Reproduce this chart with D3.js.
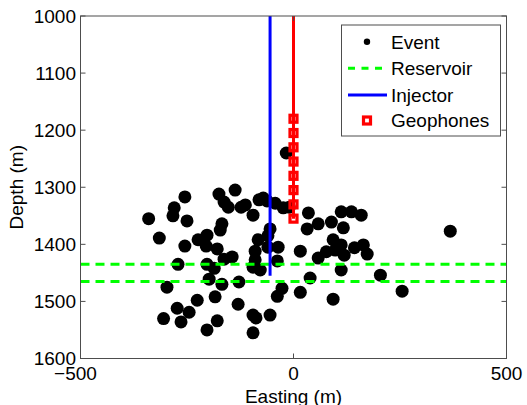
<!DOCTYPE html>
<html>
<head>
<meta charset="utf-8">
<script src="https://cdn.jsdelivr.net/npm/d3@7"></script>
<style>
  body { margin: 0; background: #fff; }
  svg text { font-family: "Liberation Sans", Arial, sans-serif; }
</style>
</head>
<body>
<div id="chart"></div>
<script>
const width = 527;
const height = 405;

// Microseismic events (easting m, depth m)
const eventEasting = [
  -340, -315, -305, -297, -273, -264, -255, -280, -283, -250,
  -255, -271, -245, -226, -224, -203, -205, -179, -203, -186,
  -198, -168, -184, -179, -203, -175, -163, -153, -137, -168,
  -172, -163, -144, -130, -128, -123, -113, -95, -81, -71,
  -62, -43, -24, -10, -55, -60, -83, -90, -60, -36,
  16, -90, -95, -78, -38, 39, -27, -38, 16, -95,
  -88, -55, -95, -17,
  35, 32, 58, 89, 112, 136, 159, 117, 93, 112,
  98, 119, 77, 58, 143, 164, 173, 112, 204, 255,
  93, 368
];
const eventDepth = [
  1355, 1389, 1530, 1475, 1512, 1536, 1317, 1336, 1350, 1359,
  1403, 1435, 1519, 1498, 1392, 1384, 1403, 1408, 1435, 1442,
  1461, 1470, 1492, 1534, 1550, 1312, 1326, 1335, 1305, 1364,
  1375, 1426, 1422, 1505, 1466, 1335, 1331, 1349, 1322, 1319,
  1324, 1328, 1336, 1335, 1373, 1385, 1392, 1412, 1405, 1405,
  1412, 1427, 1440, 1445, 1429, 1459, 1477, 1491, 1484, 1524,
  1529, 1524, 1555, 1240,
  1345, 1373, 1364, 1361, 1343, 1343, 1349, 1371, 1392, 1401,
  1410, 1419, 1413, 1424, 1406, 1401, 1417, 1445, 1454, 1482,
  1496, 1377
];

const reservoirDepths = [1435, 1465];
const injectorEasting = [-55, -55];
const injectorDepth = [1000, 1455];
const geophoneDepths = [1180, 1205, 1230, 1255, 1280, 1305, 1330, 1355];
const geophoneEasting = 0;

const xTicks = [-500, 0, 500];
const yTicks = [1000, 1100, 1200, 1300, 1400, 1500, 1600];
const legendLabels = ["Event", "Reservoir", "Injector", "Geophones"];

const plot = { left: 80.5, right: 506.5, top: 16, bottom: 358.5 };
const axisColor = "#4d4d4d";
const fontSize = 19;

const x = d3.scaleLinear().domain([-500, 500]).range([plot.left, plot.right]);
const y = d3.scaleLinear().domain([1000, 1600]).range([plot.top, plot.bottom]);

const svg = d3
  .select("#chart")
  .append("svg")
  .attr("width", width)
  .attr("height", height);

svg
  .append("rect")
  .attr("width", width)
  .attr("height", height)
  .attr("fill", "#fff");

const clip = svg
  .append("clipPath")
  .attr("id", "plotClip")
  .append("rect")
  .attr("x", plot.left)
  .attr("y", plot.top)
  .attr("width", plot.right - plot.left)
  .attr("height", plot.bottom - plot.top);

const marks = svg.append("g").attr("clip-path", "url(#plotClip)");

// Events
marks
  .append("g")
  .selectAll("circle")
  .data(eventEasting.map((e, i) => ({ e, d: eventDepth[i] })))
  .join("circle")
  .attr("cx", (d) => x(d.e))
  .attr("cy", (d) => y(d.d))
  .attr("r", 6.5)
  .attr("fill", "#000");

// Reservoir
marks
  .append("g")
  .selectAll("line")
  .data(reservoirDepths)
  .join("line")
  .attr("x1", x(-500))
  .attr("x2", x(500))
  .attr("y1", (d) => y(d))
  .attr("y2", (d) => y(d))
  .attr("stroke", "#00ff00")
  .attr("stroke-width", 3)
  .attr("stroke-dasharray", "9,6");

// Injector
marks
  .append("line")
  .attr("x1", x(injectorEasting[0]))
  .attr("x2", x(injectorEasting[1]))
  .attr("y1", y(injectorDepth[0]))
  .attr("y2", y(injectorDepth[1]))
  .attr("stroke", "#0000ff")
  .attr("stroke-width", 3);

// Geophone string
marks
  .append("line")
  .attr("x1", x(geophoneEasting))
  .attr("x2", x(geophoneEasting))
  .attr("y1", y(1000))
  .attr("y2", y(d3.max(geophoneDepths)))
  .attr("stroke", "#ff0000")
  .attr("stroke-width", 3);

const sq = 7;
marks
  .append("g")
  .selectAll("rect")
  .data(geophoneDepths)
  .join("rect")
  .attr("x", x(geophoneEasting) - sq / 2)
  .attr("y", (d) => y(d) - sq / 2)
  .attr("width", sq)
  .attr("height", sq)
  .attr("fill", "none")
  .attr("stroke", "#ff0000")
  .attr("stroke-width", 3.2);

// Axes box + inward ticks on all sides
const axes = svg.append("g");
axes
  .append("rect")
  .attr("x", plot.left)
  .attr("y", plot.top)
  .attr("width", plot.right - plot.left)
  .attr("height", plot.bottom - plot.top)
  .attr("fill", "none")
  .attr("stroke", axisColor)
  .attr("stroke-width", 1);

const tickLen = 5;
axes
  .append("g")
  .selectAll("path")
  .data(xTicks)
  .join("path")
  .attr(
    "d",
    (d) =>
      `M${x(d)},${plot.bottom}v${-tickLen}M${x(d)},${plot.top}v${tickLen}`
  )
  .attr("stroke", axisColor);

axes
  .append("g")
  .selectAll("path")
  .data(yTicks)
  .join("path")
  .attr(
    "d",
    (d) =>
      `M${plot.left},${y(d)}h${tickLen}M${plot.right},${y(d)}h${-tickLen}`
  )
  .attr("stroke", axisColor);

axes
  .append("g")
  .selectAll("text")
  .data(xTicks)
  .join("text")
  .attr("x", (d) => x(d) + (d < 0 ? -5 : 0))
  .attr("y", 380)
  .attr("text-anchor", "middle")
  .attr("font-size", fontSize)
  .attr("fill", "#000")
  .text((d) => (d < 0 ? "\u2212" + Math.abs(d) : d));

axes
  .append("g")
  .selectAll("text")
  .data(yTicks)
  .join("text")
  .attr("x", 76)
  .attr("y", (d) => y(d))
  .attr("dy", "0.36em")
  .attr("text-anchor", "end")
  .attr("font-size", fontSize)
  .attr("fill", "#000")
  .text((d) => d);

svg
  .append("text")
  .attr("x", (plot.left + plot.right) / 2)
  .attr("y", 402.5)
  .attr("text-anchor", "middle")
  .attr("font-size", fontSize)
  .text("Easting (m)");

svg
  .append("text")
  .attr("transform", `translate(23,${(plot.top + plot.bottom) / 2}) rotate(-90)`)
  .attr("text-anchor", "middle")
  .attr("font-size", fontSize)
  .text("Depth (m)");

// Legend
const legend = svg.append("g");
legend
  .append("rect")
  .attr("x", 341.5)
  .attr("y", 25)
  .attr("width", 159)
  .attr("height", 111)
  .attr("fill", "#fff")
  .attr("stroke", axisColor);

const rowY = [41.7, 68.3, 95, 120.5];
const rows = legend
  .selectAll("g.row")
  .data(legendLabels)
  .join("g")
  .attr("class", "row")
  .attr("transform", (d, i) => `translate(0,${rowY[i]})`);

rows
  .append("text")
  .attr("x", 391)
  .attr("dy", "0.36em")
  .attr("font-size", fontSize)
  .text((d) => d);

rows
  .filter((d, i) => i === 0)
  .append("circle")
  .attr("cx", 367)
  .attr("r", 3.2)
  .attr("fill", "#000");

rows
  .filter((d, i) => i === 1)
  .append("line")
  .attr("x1", 348)
  .attr("x2", 387)
  .attr("stroke", "#00ff00")
  .attr("stroke-width", 3)
  .attr("stroke-dasharray", "7,6.5");

rows
  .filter((d, i) => i === 2)
  .append("line")
  .attr("x1", 348)
  .attr("x2", 387)
  .attr("stroke", "#0000ff")
  .attr("stroke-width", 3);

rows
  .filter((d, i) => i === 3)
  .append("rect")
  .attr("x", 367 - 3.5)
  .attr("y", -3.5)
  .attr("width", 7)
  .attr("height", 7)
  .attr("fill", "#fff")
  .attr("stroke", "#ff0000")
  .attr("stroke-width", 3.2);
</script>
</body>
</html>
